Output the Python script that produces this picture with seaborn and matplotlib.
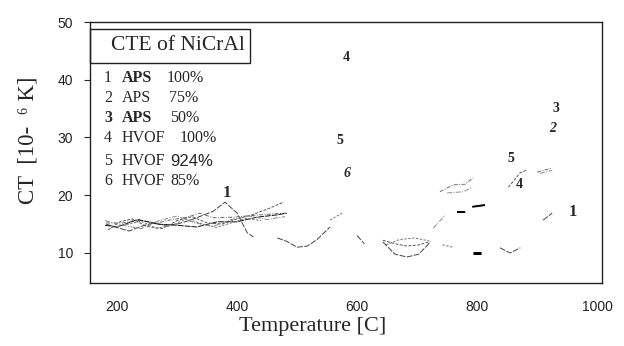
import numpy as np
import pandas as pd
import matplotlib
matplotlib.use("Agg")
import matplotlib.pyplot as plt
import seaborn as sns
from matplotlib.patches import Rectangle

nan = np.nan

# ---- data (temperature in C, CTE in 1e-6/K); nan marks a gap in the scanned curve ----
series_names = ["1 APS 100%", "2 APS 75%", "3 APS 50%", "4 HVOF 100%", "5 HVOF 924%", "6 HVOF 85%"]

T1 = [182, 200, 220, 240, 260, 280, 300, 320, 340, 360, 380, 400, 417, 427, nan,
      467, 483, 500, 517, 533, 555, nan, 600, 612, nan, 643, 663, 683, 703, 722, nan,
      838, 855, 872, nan, 910, 925]
V1 = [15.0, 14.4, 13.8, 14.6, 15.2, 14.8, 15.0, 15.6, 16.4, 17.2, 18.8, 16.9, 13.5, 12.8, nan,
      12.6, 12.0, 11.0, 11.2, 12.3, 14.5, nan, 13.0, 11.6, nan, 11.9, 9.8, 9.3, 9.8, 11.9, nan,
      10.9, 10.0, 10.9, nan, 15.7, 16.9]

T2 = [182, 210, 232, 267, 288, 317, 338, 360, 393, 438, 480, nan, 738, 760, 780, 793, nan, 900, 925]
V2 = [15.2, 15.2, 15.7, 15.2, 15.7, 16.2, 16.9, 16.1, 16.2, 16.6, 16.9, nan, 20.6, 21.8, 21.9, 23.0, nan, 24.0, 24.7]

T3 = [180, 200, 235, 267, 300, 333, 367, 400, 433, 467, 483, nan, 767, 780, nan, 792, 813, nan, 793, 807]
V3 = [14.8, 14.5, 15.8, 15.0, 14.8, 14.5, 15.4, 15.4, 16.2, 16.6, 16.9, nan, 17.1, 17.1, nan, 18.0, 18.3, nan, 10.0, 10.0]

T4 = [185, 205, 225, 250, 275, 300, 325, 350, 375, 400, 425, 455, 477, nan,
      643, 663, 683, 703, 722, nan, 852, 872, 883]
V4 = [14.0, 15.4, 15.9, 14.6, 14.2, 15.6, 16.3, 15.2, 15.0, 15.9, 16.6, 17.8, 18.8, nan,
      12.2, 11.6, 11.2, 11.4, 12.0, nan, 21.4, 23.9, 24.4]

T5 = [180, 210, 240, 270, 300, 330, 360, 390, 420, 450, 480, nan, 727, 747, nan, 750, 777, 792, nan, 905, 925]
V5 = [15.6, 14.8, 14.2, 15.6, 16.4, 15.2, 14.6, 15.8, 16.4, 15.8, 16.3, nan, 14.3, 16.6, nan, 20.4, 20.6, 21.4, nan, 23.8, 24.3]

T6 = [190, 215, 240, 265, 290, 315, 340, 365, 390, 415, 440, nan, 555, 575, nan,
      648, 670, 695, 720, nan, 742, 760]
V6 = [14.4, 14.9, 15.5, 14.3, 14.7, 15.9, 15.1, 14.4, 15.2, 16.0, 15.6, nan, 15.7, 16.9, nan,
      11.4, 12.3, 12.6, 12.1, nan, 11.4, 11.0]

# curve number labels placed on the chart
lab_text = ["1", "1", "2", "3", "4", "4", "5", "5", "6"]
lab_T = [383, 960, 925, 932, 582, 870, 572, 857, 583]
lab_V = [20.4, 17.1, 31.5, 35.1, 43.8, 21.8, 29.4, 26.3, 23.7]

xticks = [200, 400, 600, 800, 1000]
yticks = [10, 20, 30, 40, 50]

# ---- build long table with segment ids ----
rows = []
seg = 0
for name, T, V in zip(series_names, [T1, T2, T3, T4, T5, T6], [V1, V2, V3, V4, V5, V6]):
    seg += 1
    for t, v in zip(T, V):
        if np.isnan(t):
            seg += 1
            continue
        rows.append((name, seg, t, v))
df = pd.DataFrame(rows, columns=["series", "seg", "T", "CTE"])

sns.set_style("white")
plt.rcParams["font.family"] = ["Liberation Serif", "DejaVu Serif"]

fig = plt.figure(figsize=(6.24, 3.46), dpi=100)
W, H = 624, 346
ax = fig.add_axes([90 / W, 1 - 283 / H, (602 - 90) / W, (283 - 22) / H])

palette = dict(zip(series_names, ["#444444", "#6a6a6a", "#111111", "#555555", "#888888", "#777777"]))
dashes = dict(zip(series_names, [(6, 1.5), (4, 1.5, 1, 1.5), (6, 1), (3, 1.5), (5, 1.5, 1, 1.5), (2.5, 1.5)]))
sns.lineplot(data=df, x="T", y="CTE", hue="series", style="series", units="seg",
             estimator=None, palette=palette, dashes=dashes, linewidth=0.7,
             legend=False, ax=ax, sort=True)

# thick dark bits for series 3 at high T
s3 = df[(df["series"] == "3 APS 50%") & (df["T"] > 700)]
for sid, g in s3.groupby("seg"):
    ax.plot(g["T"], g["CTE"], color="black", lw=2.2 if g["CTE"].iloc[0] < 12 else 1.4, solid_capstyle="butt")

ax.set_xlim(155, 1008)
ax.set_ylim(4.8, 50)
ax.set_xticks(xticks)
ax.set_yticks(yticks)
ax.set_xticklabels([str(v) for v in xticks], family="Liberation Sans", fontsize=10, color="#222222")
ax.set_yticklabels([str(v) for v in yticks], family="Liberation Sans", fontsize=10, color="#222222")
ax.tick_params(axis="x", length=0, pad=12)
ax.tick_params(axis="y", length=4, width=0.8, pad=8, direction="out", left=True)
ax.set_xlabel("")
ax.set_ylabel("")
for sp in ax.spines.values():
    sp.set_color("#222222")
    sp.set_linewidth(1.0)

for t, x, y in zip(lab_text, lab_T, lab_V):
    big = t == "1"
    ax.text(x, y, t, ha="center", va="center", fontsize=12 if big else 10,
            fontweight="bold", fontstyle="italic" if t in ("2", "6") else "normal",
            family=["Liberation Serif", "DejaVu Serif"])

# ---- legend block (figure pixel coordinates) ----
def fx(px):
    return px / W

def fy(py):
    return 1 - py / H

fig.patches.append(Rectangle((fx(90), fy(63)), (250 - 90) / W, (63 - 29) / H,
                             transform=fig.transFigure, fill=False, edgecolor="#222222", lw=1.0))
fig.text(fx(111), fy(46), "CTE of NiCrAl", fontsize=15.5, va="center", ha="left")

leg_rows = [
    (78, ("1", False), ("APS", True), ("100%", False, 167, "serif")),
    (98, ("2", False), ("APS", False), ("75%", False, 169, "serif")),
    (118, ("3", True), ("APS", True), ("50%", False, 170, "serif")),
    (138, ("4", False), ("HVOF", False), ("100%", False, 180, "serif")),
    (161, ("5", False), ("HVOF", False), ("924%", False, 170, "sans")),
    (181, ("6", False), ("HVOF", False), ("85%", False, 170, "serif")),
]
for y, num, name, pct in leg_rows:
    fig.text(fx(104), fy(y), num[0], fontsize=11.5, fontweight="bold" if num[1] else "normal", va="center")
    fig.text(fx(122), fy(y), name[0], fontsize=11.5, fontweight="bold" if name[1] else "normal", va="center")
    fam = "Liberation Sans" if pct[3] == "sans" else "Liberation Serif"
    fig.text(fx(pct[2]), fy(y), pct[0], fontsize=11.5 if pct[3] == "serif" else 12, family=fam, va="center")

# axis titles
fig.text(fx(313), fy(327), "Temperature [C]", fontsize=16, ha="center", va="center")
fig.text(fx(28), fy(140), "CT  [10-  \u2076 K]", fontsize=16.5, ha="center", va="center", rotation=90,
         family=["Liberation Serif", "DejaVu Serif"])

fig.savefig("out.png", dpi=100)
